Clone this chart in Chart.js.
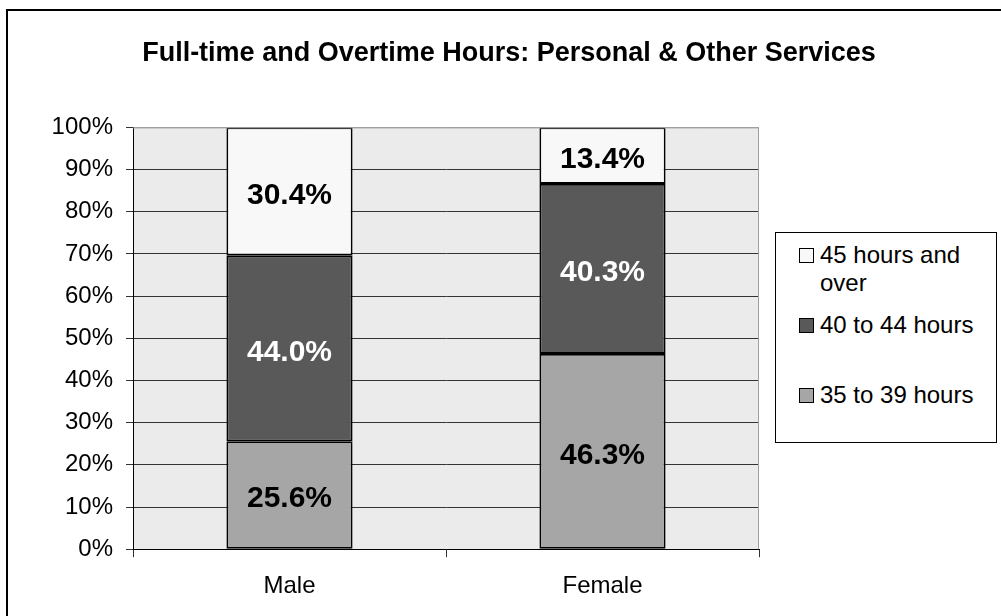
<!DOCTYPE html>
<html>
<head>
<meta charset="utf-8">
<script src="https://cdn.jsdelivr.net/npm/chart.js@4"></script>
<style>
  html, body { margin: 0; padding: 0; background: #fff; overflow: hidden; }
  #wrap { position: relative; width: 1001px; height: 616px; }
  #frame { position: absolute; left: 6px; top: 9px; width: 1100px; height: 700px; border: 2px solid #000; }
  canvas { position: absolute; left: 0; top: 0; }
  #legend { position: absolute; left: 775px; top: 232px; width: 220px; height: 209px;
    border: 1px solid #000; background: #fff; font-family: "Liberation Sans", Arial, sans-serif;
    font-size: 24px; line-height: 28px; color: #000; }
  .swatch { position: absolute; left: 23px; width: 13px; height: 13px; border: 1px solid #000; }
  .ltext { position: absolute; left: 44px; width: 175px; }
</style>
</head>
<body>
<div id="wrap">
  <div id="frame"></div>
  <canvas id="chart" width="1001" height="616"></canvas>
  <div id="legend"></div>
</div>
<script>
// Data
const categories = ["Male", "Female"];
const seriesNames = ["35 to 39 hours", "40 to 44 hours", "45 hours and over"];
const hours35to39 = [25.6, 46.3];
const hours40to44 = [44.0, 40.3];
const hours45plus = [30.4, 13.4];
const yTicks = [0, 10, 20, 30, 40, 50, 60, 70, 80, 90, 100];

// Color scheme
const colors = {
  light: "#f8f8f8",
  dark: "#595959",
  mid: "#a6a6a6",
  plotBg: "#ebebeb",
};

const font = "'Liberation Sans', Arial, sans-serif";

// Plot area background and frame
const plotBackground = {
  id: "plotBackground",
  beforeDraw(chart) {
    const { ctx, chartArea: a } = chart;
    ctx.save();
    ctx.fillStyle = colors.plotBg;
    ctx.fillRect(a.left, a.top, a.right - a.left, a.bottom - a.top);
    ctx.restore();
  },
  afterDraw(chart) {
    const { ctx, chartArea: a } = chart;
    ctx.save();
    ctx.strokeStyle = "#a0a0a0";
    ctx.lineWidth = 1;
    ctx.beginPath();
    ctx.moveTo(a.left, a.top + 0.5);
    ctx.lineTo(a.right - 0.5, a.top + 0.5);
    ctx.lineTo(a.right - 0.5, a.bottom);
    ctx.stroke();
    ctx.restore();
  },
};

// Value labels in the middle of each segment
const segmentLabels = {
  id: "segmentLabels",
  afterDatasetsDraw(chart) {
    const ctx = chart.ctx;
    ctx.save();
    ctx.font = "bold 30px " + font;
    ctx.textAlign = "center";
    ctx.textBaseline = "middle";
    chart.data.datasets.forEach((ds, i) => {
      const meta = chart.getDatasetMeta(i);
      ctx.fillStyle = ds.labelColor;
      meta.data.forEach((bar, j) => {
        const y = (bar.y + bar.base) / 2;
        ctx.fillText(ds.data[j].toFixed(1) + "%", bar.x, y + 4);
      });
    });
    ctx.restore();
  },
};

const data = {
  labels: categories,
  datasets: [
    { label: seriesNames[0], data: hours35to39, backgroundColor: colors.mid, labelColor: "#000" },
    { label: seriesNames[1], data: hours40to44, backgroundColor: colors.dark, labelColor: "#fff" },
    { label: seriesNames[2], data: hours45plus, backgroundColor: colors.light, labelColor: "#000" },
  ].map((d) => Object.assign(d, {
    borderColor: "#000",
    borderWidth: 1.8,
    borderSkipped: false,
    barPercentage: 0.403,
    categoryPercentage: 1,
  })),
};

const options = {
  responsive: false,
  animation: false,
  layout: { padding: { left: 17, right: 0, top: 0, bottom: 0 } },
  scales: {
    x: {
      stacked: true,
      offset: true,
      grid: {
        offset: true,
        drawOnChartArea: false,
        drawTicks: true,
        tickLength: 8,
        tickColor: "#333",
      },
      border: { color: "#000", width: 1 },
      ticks: { color: "#000", font: { family: font, size: 24 }, padding: 15 },
    },
    y: {
      stacked: true,
      min: 0,
      max: 100,
      afterBuildTicks(scale) {
        scale.ticks = yTicks.map((v) => ({ value: v }));
      },
      afterFit(scale) {
        scale.width = 116;
      },
      grid: {
        color: (c) => (c.tick && c.tick.value === 100 ? "#a0a0a0" : "#333"),
        tickColor: "#333",
        tickLength: 7,
      },
      border: { color: "#000", width: 1 },
      ticks: {
        color: "#000",
        padding: 13,
        font: { family: font, size: 24 },
        callback: (v) => v + "%",
      },
    },
    spacer: {
      type: "linear",
      position: "right",
      min: 0,
      max: 1,
      grid: { display: false },
      border: { display: false },
      ticks: { display: false },
      afterFit(scale) {
        scale.width = 242;
      },
    },
  },
  plugins: {
    legend: { display: false },
    tooltip: { enabled: false },
    title: {
      display: true,
      text: "Full-time and Overtime Hours: Personal & Other Services",
      color: "#000",
      font: { family: font, size: 27, weight: "bold", lineHeight: 1.2 },
      padding: { top: 37, bottom: 58 },
    },
  },
};

new Chart(document.getElementById("chart").getContext("2d"), {
  type: "bar",
  data: data,
  options: options,
  plugins: [plotBackground, segmentLabels],
});

// Legend (top entry first, as in the reference)
const legendItems = [
  { color: colors.light, lines: ["45 hours and", "over"], top: 8 },
  { color: colors.dark, lines: [seriesNames[1]], top: 78 },
  { color: colors.mid, lines: [seriesNames[0]], top: 148 },
];
const legend = document.getElementById("legend");
legendItems.forEach((item) => {
  const sw = document.createElement("div");
  sw.className = "swatch";
  sw.style.background = item.color;
  sw.style.top = item.top + 7 + "px";
  legend.appendChild(sw);
  const tx = document.createElement("div");
  tx.className = "ltext";
  tx.style.top = item.top + "px";
  tx.innerHTML = item.lines.join("<br>");
  legend.appendChild(tx);
});
</script>
</body>
</html>
